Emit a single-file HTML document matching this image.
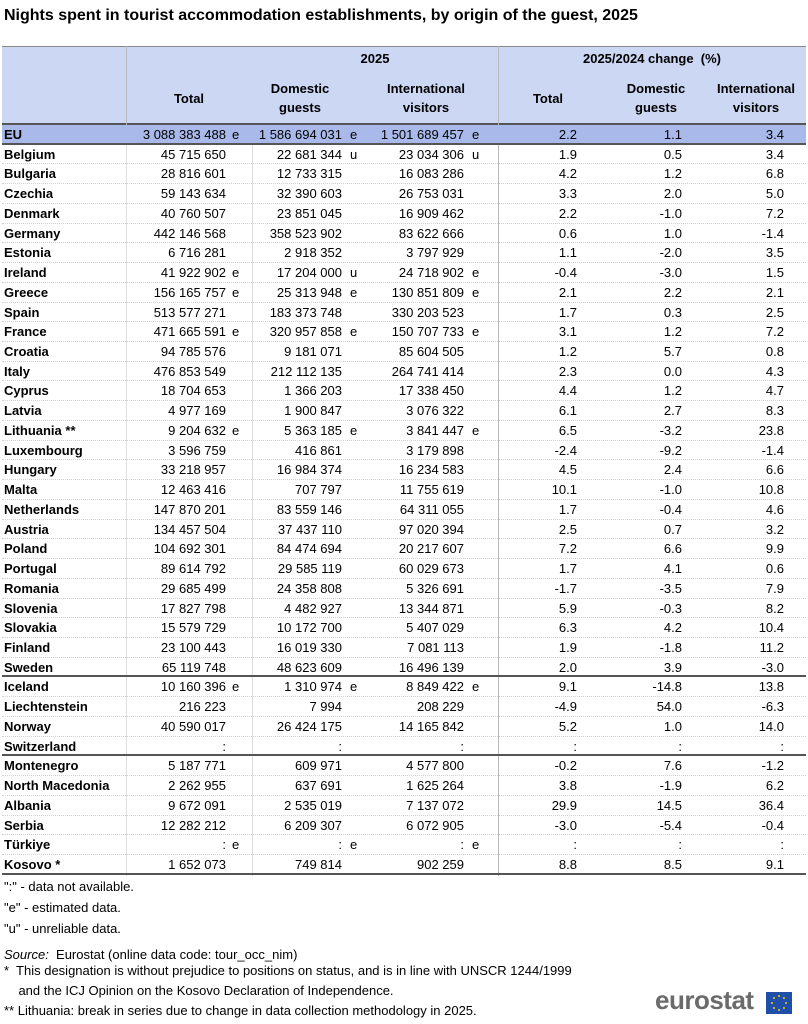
<!DOCTYPE html>
<html><head><meta charset="utf-8"><style>
*{margin:0;padding:0;box-sizing:border-box}
body{width:808px;height:1024px;background:#fff;font-family:"Liberation Sans",Arial,sans-serif;color:#000;position:relative;overflow:hidden}
.t{position:absolute;left:4px;top:7px;font-weight:bold;font-size:16px}
.hdr{position:absolute;left:2px;top:46px;width:804px;height:79px;background:#ccd7f4;border-top:1px solid #888;border-bottom:2px solid #555}
.h{position:absolute;font-weight:bold;font-size:13px;text-align:center;line-height:19px}
.vl{position:absolute;width:1px;background:#b8b8b8}
.r{position:absolute;left:2px;width:804px;height:19.73px;font-size:13px;line-height:19.73px;border-bottom:1px dotted #d0d0d0}
.r span{position:absolute;white-space:nowrap}
.n{left:2px;font-weight:bold}
.a{right:580px;text-align:right}.af{left:230px}
.b{right:464px}.bf{left:348px}
.c{right:342px}.cf{left:470px}
.d{right:229px}.e{right:124px}.f{right:22px}
.eu{background:#a9baea;border-bottom:2px solid #555}
.sep{border-bottom:2px solid #555}
.fn{position:absolute;left:4px;font-size:13px;line-height:15px;white-space:nowrap}
</style></head><body>
<div class="t">Nights spent in tourist accommodation establishments, by origin of the guest, 2025</div>
<div class="hdr">
<div class="h" style="left:250px;width:246px;top:2px">2025</div>
<div class="h" style="left:496px;width:308px;top:2px">2025/2024 change&nbsp; (%)</div>
<div class="h" style="left:124px;width:126px;top:42px">Total</div>
<div class="h" style="left:250px;width:96px;top:32px">Domestic<br>guests</div>
<div class="h" style="left:374px;width:100px;top:32px">International<br>visitors</div>
<div class="h" style="left:496px;width:100px;top:42px">Total</div>
<div class="h" style="left:604px;width:100px;top:32px">Domestic<br>guests</div>
<div class="h" style="left:704px;width:100px;top:32px">International<br>visitors</div>
</div>
<div class="vl" style="left:126px;top:46px;height:79px"></div>
<div class="vl" style="left:498px;top:46px;height:830px"></div>
<div class="vl" style="left:252px;top:125px;height:751px;background:#ddd"></div>
<div class="vl" style="left:126px;top:125px;height:751px;background:#ddd"></div>
<div class="r eu" style="top:125px"><span class="n">EU</span><span class="a">3 088 383 488</span><span class="af">e</span><span class="b">1 586 694 031</span><span class="bf">e</span><span class="c">1 501 689 457</span><span class="cf">e</span><span class="d">2.2</span><span class="e">1.1</span><span class="f">3.4</span></div>
<div class="r" style="top:144.73px"><span class="n">Belgium</span><span class="a">45 715 650</span><span class="b">22 681 344</span><span class="bf">u</span><span class="c">23 034 306</span><span class="cf">u</span><span class="d">1.9</span><span class="e">0.5</span><span class="f">3.4</span></div>
<div class="r" style="top:164.46px"><span class="n">Bulgaria</span><span class="a">28 816 601</span><span class="b">12 733 315</span><span class="c">16 083 286</span><span class="d">4.2</span><span class="e">1.2</span><span class="f">6.8</span></div>
<div class="r" style="top:184.19px"><span class="n">Czechia</span><span class="a">59 143 634</span><span class="b">32 390 603</span><span class="c">26 753 031</span><span class="d">3.3</span><span class="e">2.0</span><span class="f">5.0</span></div>
<div class="r" style="top:203.92px"><span class="n">Denmark</span><span class="a">40 760 507</span><span class="b">23 851 045</span><span class="c">16 909 462</span><span class="d">2.2</span><span class="e">-1.0</span><span class="f">7.2</span></div>
<div class="r" style="top:223.65px"><span class="n">Germany</span><span class="a">442 146 568</span><span class="b">358 523 902</span><span class="c">83 622 666</span><span class="d">0.6</span><span class="e">1.0</span><span class="f">-1.4</span></div>
<div class="r" style="top:243.38px"><span class="n">Estonia</span><span class="a">6 716 281</span><span class="b">2 918 352</span><span class="c">3 797 929</span><span class="d">1.1</span><span class="e">-2.0</span><span class="f">3.5</span></div>
<div class="r" style="top:263.11px"><span class="n">Ireland</span><span class="a">41 922 902</span><span class="af">e</span><span class="b">17 204 000</span><span class="bf">u</span><span class="c">24 718 902</span><span class="cf">e</span><span class="d">-0.4</span><span class="e">-3.0</span><span class="f">1.5</span></div>
<div class="r" style="top:282.84px"><span class="n">Greece</span><span class="a">156 165 757</span><span class="af">e</span><span class="b">25 313 948</span><span class="bf">e</span><span class="c">130 851 809</span><span class="cf">e</span><span class="d">2.1</span><span class="e">2.2</span><span class="f">2.1</span></div>
<div class="r" style="top:302.57px"><span class="n">Spain</span><span class="a">513 577 271</span><span class="b">183 373 748</span><span class="c">330 203 523</span><span class="d">1.7</span><span class="e">0.3</span><span class="f">2.5</span></div>
<div class="r" style="top:322.3px"><span class="n">France</span><span class="a">471 665 591</span><span class="af">e</span><span class="b">320 957 858</span><span class="bf">e</span><span class="c">150 707 733</span><span class="cf">e</span><span class="d">3.1</span><span class="e">1.2</span><span class="f">7.2</span></div>
<div class="r" style="top:342.03px"><span class="n">Croatia</span><span class="a">94 785 576</span><span class="b">9 181 071</span><span class="c">85 604 505</span><span class="d">1.2</span><span class="e">5.7</span><span class="f">0.8</span></div>
<div class="r" style="top:361.76px"><span class="n">Italy</span><span class="a">476 853 549</span><span class="b">212 112 135</span><span class="c">264 741 414</span><span class="d">2.3</span><span class="e">0.0</span><span class="f">4.3</span></div>
<div class="r" style="top:381.49px"><span class="n">Cyprus</span><span class="a">18 704 653</span><span class="b">1 366 203</span><span class="c">17 338 450</span><span class="d">4.4</span><span class="e">1.2</span><span class="f">4.7</span></div>
<div class="r" style="top:401.22px"><span class="n">Latvia</span><span class="a">4 977 169</span><span class="b">1 900 847</span><span class="c">3 076 322</span><span class="d">6.1</span><span class="e">2.7</span><span class="f">8.3</span></div>
<div class="r" style="top:420.95px"><span class="n">Lithuania **</span><span class="a">9 204 632</span><span class="af">e</span><span class="b">5 363 185</span><span class="bf">e</span><span class="c">3 841 447</span><span class="cf">e</span><span class="d">6.5</span><span class="e">-3.2</span><span class="f">23.8</span></div>
<div class="r" style="top:440.68px"><span class="n">Luxembourg</span><span class="a">3 596 759</span><span class="b">416 861</span><span class="c">3 179 898</span><span class="d">-2.4</span><span class="e">-9.2</span><span class="f">-1.4</span></div>
<div class="r" style="top:460.41px"><span class="n">Hungary</span><span class="a">33 218 957</span><span class="b">16 984 374</span><span class="c">16 234 583</span><span class="d">4.5</span><span class="e">2.4</span><span class="f">6.6</span></div>
<div class="r" style="top:480.14px"><span class="n">Malta</span><span class="a">12 463 416</span><span class="b">707 797</span><span class="c">11 755 619</span><span class="d">10.1</span><span class="e">-1.0</span><span class="f">10.8</span></div>
<div class="r" style="top:499.87px"><span class="n">Netherlands</span><span class="a">147 870 201</span><span class="b">83 559 146</span><span class="c">64 311 055</span><span class="d">1.7</span><span class="e">-0.4</span><span class="f">4.6</span></div>
<div class="r" style="top:519.6px"><span class="n">Austria</span><span class="a">134 457 504</span><span class="b">37 437 110</span><span class="c">97 020 394</span><span class="d">2.5</span><span class="e">0.7</span><span class="f">3.2</span></div>
<div class="r" style="top:539.33px"><span class="n">Poland</span><span class="a">104 692 301</span><span class="b">84 474 694</span><span class="c">20 217 607</span><span class="d">7.2</span><span class="e">6.6</span><span class="f">9.9</span></div>
<div class="r" style="top:559.06px"><span class="n">Portugal</span><span class="a">89 614 792</span><span class="b">29 585 119</span><span class="c">60 029 673</span><span class="d">1.7</span><span class="e">4.1</span><span class="f">0.6</span></div>
<div class="r" style="top:578.79px"><span class="n">Romania</span><span class="a">29 685 499</span><span class="b">24 358 808</span><span class="c">5 326 691</span><span class="d">-1.7</span><span class="e">-3.5</span><span class="f">7.9</span></div>
<div class="r" style="top:598.52px"><span class="n">Slovenia</span><span class="a">17 827 798</span><span class="b">4 482 927</span><span class="c">13 344 871</span><span class="d">5.9</span><span class="e">-0.3</span><span class="f">8.2</span></div>
<div class="r" style="top:618.25px"><span class="n">Slovakia</span><span class="a">15 579 729</span><span class="b">10 172 700</span><span class="c">5 407 029</span><span class="d">6.3</span><span class="e">4.2</span><span class="f">10.4</span></div>
<div class="r" style="top:637.98px"><span class="n">Finland</span><span class="a">23 100 443</span><span class="b">16 019 330</span><span class="c">7 081 113</span><span class="d">1.9</span><span class="e">-1.8</span><span class="f">11.2</span></div>
<div class="r sep" style="top:657.71px"><span class="n">Sweden</span><span class="a">65 119 748</span><span class="b">48 623 609</span><span class="c">16 496 139</span><span class="d">2.0</span><span class="e">3.9</span><span class="f">-3.0</span></div>
<div class="r" style="top:677.44px"><span class="n">Iceland</span><span class="a">10 160 396</span><span class="af">e</span><span class="b">1 310 974</span><span class="bf">e</span><span class="c">8 849 422</span><span class="cf">e</span><span class="d">9.1</span><span class="e">-14.8</span><span class="f">13.8</span></div>
<div class="r" style="top:697.17px"><span class="n">Liechtenstein</span><span class="a">216 223</span><span class="b">7 994</span><span class="c">208 229</span><span class="d">-4.9</span><span class="e">54.0</span><span class="f">-6.3</span></div>
<div class="r" style="top:716.9px"><span class="n">Norway</span><span class="a">40 590 017</span><span class="b">26 424 175</span><span class="c">14 165 842</span><span class="d">5.2</span><span class="e">1.0</span><span class="f">14.0</span></div>
<div class="r sep" style="top:736.63px"><span class="n">Switzerland</span><span class="a">:</span><span class="b">:</span><span class="c">:</span><span class="d">:</span><span class="e">:</span><span class="f">:</span></div>
<div class="r" style="top:756.36px"><span class="n">Montenegro</span><span class="a">5 187 771</span><span class="b">609 971</span><span class="c">4 577 800</span><span class="d">-0.2</span><span class="e">7.6</span><span class="f">-1.2</span></div>
<div class="r" style="top:776.09px"><span class="n">North Macedonia</span><span class="a">2 262 955</span><span class="b">637 691</span><span class="c">1 625 264</span><span class="d">3.8</span><span class="e">-1.9</span><span class="f">6.2</span></div>
<div class="r" style="top:795.82px"><span class="n">Albania</span><span class="a">9 672 091</span><span class="b">2 535 019</span><span class="c">7 137 072</span><span class="d">29.9</span><span class="e">14.5</span><span class="f">36.4</span></div>
<div class="r" style="top:815.55px"><span class="n">Serbia</span><span class="a">12 282 212</span><span class="b">6 209 307</span><span class="c">6 072 905</span><span class="d">-3.0</span><span class="e">-5.4</span><span class="f">-0.4</span></div>
<div class="r" style="top:835.28px"><span class="n">Türkiye</span><span class="a">:</span><span class="af">e</span><span class="b">:</span><span class="bf">e</span><span class="c">:</span><span class="cf">e</span><span class="d">:</span><span class="e">:</span><span class="f">:</span></div>
<div class="r sep" style="top:855.01px"><span class="n">Kosovo *</span><span class="a">1 652 073</span><span class="b">749 814</span><span class="c">902 259</span><span class="d">8.8</span><span class="e">8.5</span><span class="f">9.1</span></div>
<div class="fn" style="top:879px">":" - data not available.</div>
<div class="fn" style="top:900px">"e" - estimated data.</div>
<div class="fn" style="top:921px">"u" - unreliable data.</div>
<div class="fn" style="top:947px"><i>Source:</i>&nbsp; Eurostat (online data code: tour_occ_nim)</div>
<div class="fn" style="top:963px">*&nbsp; This designation is without prejudice to positions on status, and is in line with UNSCR 1244/1999</div>
<div class="fn" style="top:983px">&nbsp;&nbsp;&nbsp; and the ICJ Opinion on the Kosovo Declaration of Independence.</div>
<div class="fn" style="top:1003px">** Lithuania: break in series due to change in data collection methodology in 2025.</div>
<div style="position:absolute;left:655px;top:986px;font-size:26px;font-weight:bold;color:#6b6b6b;letter-spacing:-0.5px;line-height:28px">eurostat</div>
<div style="position:absolute;left:766px;top:992px;width:26px;height:22px;background:#1f4fa8"><svg width="26" height="22"><g fill="#f6d000"><circle cx="13" cy="4" r="1"/><circle cx="13" cy="18" r="1"/><circle cx="6" cy="11" r="1"/><circle cx="20" cy="11" r="1"/><circle cx="8" cy="6" r="1"/><circle cx="18" cy="6" r="1"/><circle cx="8" cy="16" r="1"/><circle cx="18" cy="16" r="1"/></g></svg></div>
</body></html>
